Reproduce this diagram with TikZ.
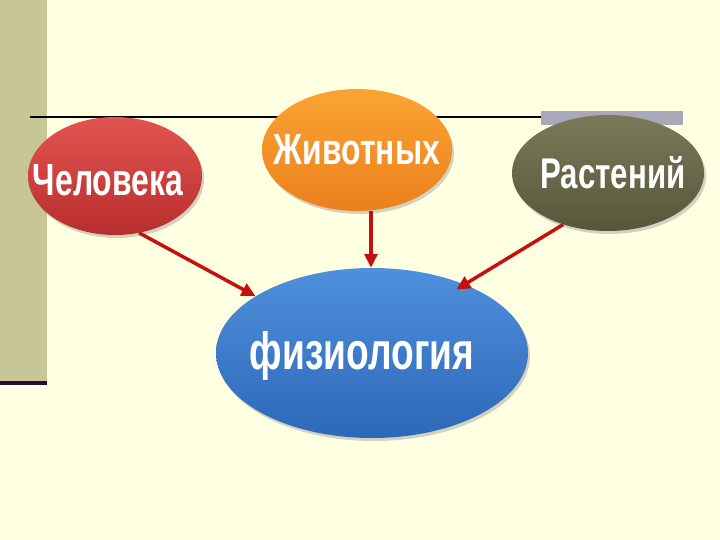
\documentclass[tikz,border=0pt]{standalone}
\usepackage{fontspec}
\setmainfont{Liberation Sans}
\usetikzlibrary{arrows.meta,shadows,calc,shapes.geometric}
\definecolor{bg}{HTML}{FFFFE2}
\definecolor{barc}{HTML}{C6C697}
\definecolor{barline}{HTML}{2E0B2E}
\definecolor{greyrect}{HTML}{A9A8B8}
\definecolor{arrowred}{HTML}{C41010}
\newcommand\mylbl[3]{\resizebox{#1}{#2}{\bfseries #3}}
\tikzset{
  bubble/.style={ellipse, inner sep=0pt, draw=none,
    drop shadow={opacity=0.35, shadow xshift=2pt, shadow yshift=-3pt}},
  lbl/.style={anchor=base, inner sep=0pt, text=white},
  link/.style={draw=arrowred, line width=3.5pt, -{Triangle[length=14pt,width=13pt]}}
}
\begin{document}
\begin{tikzpicture}[x=1pt,y=-1pt]
\useasboundingbox (0,0) rectangle (720,540);
\fill[bg] (0,0) rectangle (720,540);
\fill[barc] (0,0) rectangle (47,381);
\fill[barline] (0,381) rectangle (47,385);
\draw[line width=1.5pt] (30,117) -- (683,117);
\fill[greyrect] (541,111) rectangle (683,125);

\node[bubble, minimum width=174pt, minimum height=118pt, top color={rgb,255:red,226;green,84;blue,80}, bottom color={rgb,255:red,184;green,46;blue,46}] (chel) at (115,176) {};
\node[bubble, minimum width=190pt, minimum height=122pt, top color={rgb,255:red,250;green,164;blue,52}, bottom color={rgb,255:red,236;green,128;blue,28}] (zhiv) at (357,150) {};
\node[bubble, minimum width=192pt, minimum height=116pt, top color={rgb,255:red,122;green,122;blue,90}, bottom color={rgb,255:red,86;green,86;blue,58}] (rast) at (608,173) {};
\node[bubble, minimum width=312pt, minimum height=170pt, top color={rgb,255:red,78;green,144;blue,220}, bottom color={rgb,255:red,46;green,104;blue,184}] (fiz) at (372,353) {};

\node[lbl] (tchel) at (108,196) {\mylbl{150pt}{31pt}{Человека}};
\node[lbl] (tzhiv) at (357,165) {\mylbl{166pt}{30pt}{Животных}};
\node[lbl] (trast) at (613,189) {\mylbl{145pt}{32pt}{Растений}};
\node[lbl] (tfiz) at (362,369) {\mylbl{224pt}{38pt}{физиология}};

\draw[link] (chel.-67) -- (fiz.154);
\draw[link] (zhiv.-77) -- (zhiv.-77 |- fiz.north);
\draw[link] (rast.-131) -- ($(fiz.center)!0.92!(fiz.37)$);
\end{tikzpicture}
\end{document}
